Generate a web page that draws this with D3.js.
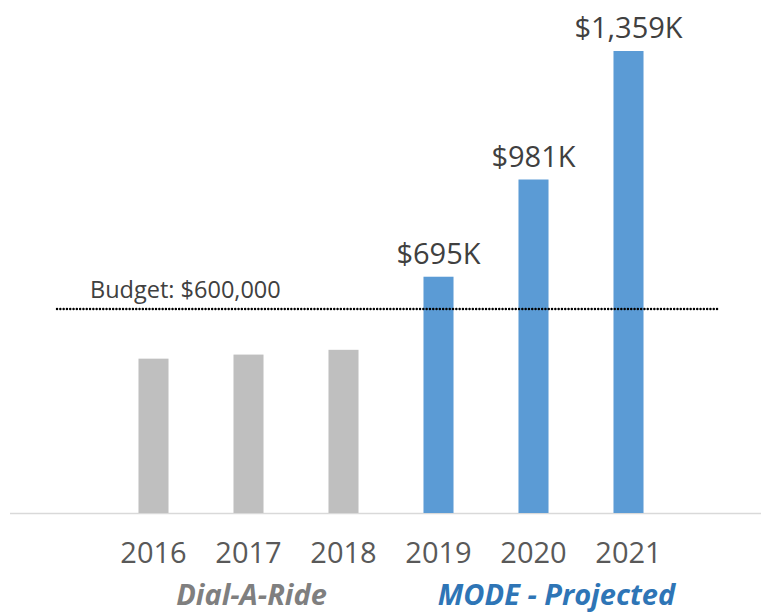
<!DOCTYPE html>
<html>
<head>
<meta charset="utf-8">
<script src="https://cdn.jsdelivr.net/npm/d3@7"></script>
<style>
  body { margin: 0; background: #fff; }
  text { font-family: "Open Sans", sans-serif; }
</style>
</head>
<body>
<script>
const years = ["2016", "2017", "2018", "2019", "2020", "2021"]
const costs = [454, 466, 480, 695, 981, 1359]   // thousands of dollars
const labels = ["", "", "", "$695K", "$981K", "$1,359K"]
const groups = ["gray", "gray", "gray", "blue", "blue", "blue"]
const budget = 600
const budgetLabel = "Budget: $600,000"
const groupNames = [{ name: "Dial-A-Ride", at: "2017", dx: 3, color: "#7f7f7f" },
                    { name: "MODE - Projected", at: "2020", dx: 23, color: "#2e75b6" }]

const width = 761, height = 612
const baseline = 513

const x = d3.scaleBand()
    .domain(years)
    .range([106, 676])
    .paddingInner(0.684)
    .paddingOuter(0.342)

const y = d3.scaleLinear()
    .domain([0, 1359])
    .range([baseline, 51])

const svg = d3.select("body")
    .append("svg")
    .attr("width", width)
    .attr("height", height)

// baseline
svg.append("line")
    .attr("x1", 10).attr("x2", 761)
    .attr("y1", baseline + 0.5).attr("y2", baseline + 0.5)
    .attr("stroke", "#d9d9d9")
    .attr("stroke-width", 1.5)

const color = { gray: "#bfbfbf", blue: "#5b9bd5" }

svg.selectAll("rect.bar")
    .data(years)
    .enter()
    .append("rect")
    .attr("class", "bar")
    .attr("x", d => x(d))
    .attr("width", x.bandwidth())
    .attr("y", (d, i) => y(costs[i]))
    .attr("height", (d, i) => baseline - y(costs[i]))
    .attr("fill", (d, i) => color[groups[i]])

// value labels
svg.selectAll("text.val")
    .data(years)
    .enter()
    .append("text")
    .attr("class", "val")
    .attr("x", d => x(d) + x.bandwidth() / 2)
    .attr("y", (d, i) => y(costs[i]) - 13)
    .attr("text-anchor", "middle")
    .attr("font-size", 29)
    .attr("fill", "#404040")
    .text((d, i) => labels[i])

// budget line
svg.append("line")
    .attr("x1", 57).attr("x2", 720)
    .attr("y1", y(budget)).attr("y2", y(budget))
    .attr("stroke", "#000")
    .attr("stroke-width", 2.4)
    .attr("stroke-dasharray", "0.1 3.2")
    .attr("stroke-linecap", "round")

svg.append("text")
    .attr("x", 90)
    .attr("y", y(budget) - 11)
    .attr("font-size", 23.5)
    .attr("fill", "#404040")
    .text(budgetLabel)

// x axis labels
const axis = svg.append("g")
    .attr("transform", "translate(0," + baseline + ")")
    .call(d3.axisBottom(x).tickSize(0).tickPadding(29))
axis.select(".domain").remove()
axis.selectAll("text")
    .attr("font-size", 29)
    .attr("fill", "#595959")
    .attr("font-family", "\"Open Sans\", sans-serif")

// group labels
svg.selectAll("text.grp")
    .data(groupNames)
    .enter()
    .append("text")
    .attr("class", "grp")
    .attr("x", d => x(d.at) + x.bandwidth() / 2 + d.dx)
    .attr("y", 605)
    .attr("text-anchor", "middle")
    .attr("font-size", 29)
    .attr("font-weight", "bold")
    .attr("font-style", "italic")
    .attr("fill", d => d.color)
    .text(d => d.name)
</script>
</body>
</html>
